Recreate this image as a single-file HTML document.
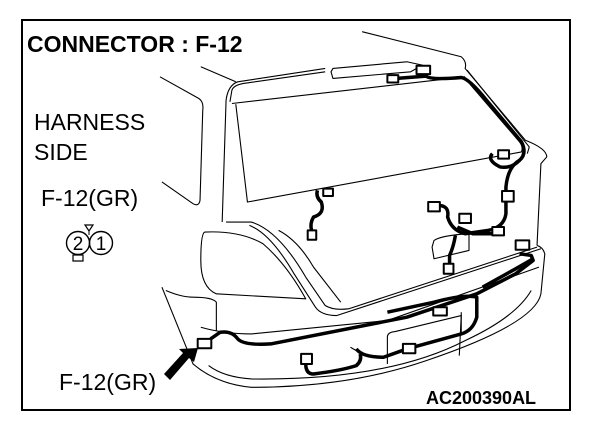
<!DOCTYPE html>
<html><head><meta charset="utf-8"><style>
html,body{margin:0;padding:0;background:#fff;width:608px;height:426px;overflow:hidden;position:relative;font-family:"Liberation Sans",Arial,sans-serif;color:#000}
.t{position:absolute;white-space:nowrap;line-height:1}
svg{position:absolute;left:0;top:0}
path,line,rect,polygon,ellipse{vector-effect:non-scaling-stroke}
</style></head><body>
<svg width="608" height="426" viewBox="0 0 608 426">
<rect x="22" y="20" width="548" height="390" fill="none" stroke="#000" stroke-width="2"/>
<g transform="matrix(0.3887 0 0 0.3339 -1.32 0)" fill="none" stroke="#000" stroke-width="1.1" stroke-linejoin="round">
<path d="M935,95 L1190,170 Q1205,185 1200,205 L1355,420 Q1410,445 1410,470 L1395,490 L1385,735"/>
<path d="M520,200 L610,245"/>
<path d="M415,230 L515,295 Q528,305 525,330 L518,600 Q515,620 500,610 L420,545"/>
<path d="M575,665 L585,300 Q590,255 615,245 L840,205"/>
<path d="M595,305 L600,270 Q605,255 630,250 L840,215"/>
<path d="M855,215 L860,205 L1050,185 L1090,195 L1060,215 L860,235 Z"/>
<path d="M600,310 L1200,230"/>
<path d="M1205,210 L1365,440 L1360,460"/>
<path d="M610,312 L640,605 L1345,455 Q1350,440 1340,425 L1200,235"/>
<path d="M585,665 L650,665 Q720,690 790,830 L840,915 Q860,930 900,925 L1385,740"/>
<path d="M645,675 Q700,700 760,820 L815,920 Q830,945 870,945 L1395,745"/>
<path d="M720,690 Q770,720 810,800 L880,905"/>
<path d="M530,695 Q520,700 520,780 Q520,860 560,880 L790,895 Q740,790 680,730 Q620,690 530,695"/>
<path d="M430,870 Q470,890 500,890 Q550,890 560,905 L560,990"/>
<path d="M420,860 L500,1090 Q560,1150 650,1160 Q900,1160 1100,1080 Q1380,970 1395,880 L1405,760 Q1400,740 1385,735"/>
<path d="M520,980 Q580,1000 650,1000 L1000,960 L1390,800"/>
<path d="M540,1095 Q580,1130 650,1135 Q1000,1140 1200,1020 Q1330,950 1370,870"/>
<path d="M1000,1090 L1000,1010 Q1000,995 1020,993 L1190,945 L1185,1065"/>
<path d="M1190,935 L1190,1000"/>
<g stroke-width="3.5">
<path d="M545,1015 L570,995 Q600,990 615,1015 Q630,1035 700,1030 L1050,950 L1230,880 L1330,820 L1375,780 L1370,765 L1340,760"/>
<path d="M1245,860 L1330,805 L1375,775"/>
<path d="M920,1045 Q935,1070 990,1070 L1050,1045 L1190,1000 Q1220,990 1230,950 L1230,890 Q1200,880 1120,905 L1000,935"/>
<path d="M790,1090 Q790,1120 810,1120 Q880,1110 920,1095 Q935,1080 930,1060"/>
<path d="M1020,235 L1100,228 Q1110,240 1190,232 Q1210,235 1255,300 L1345,425 Q1360,460 1340,480 Q1310,500 1305,560 L1305,640 Q1300,680 1260,690 L1200,700 Q1165,690 1155,650 Q1160,615 1130,615"/>
<path d="M1180,680 L1220,700 L1285,700"/>
<path d="M1270,460 Q1255,480 1290,500 Q1320,505 1340,480"/>
<path d="M1175,705 Q1170,740 1160,765 L1160,790"/>
<path d="M820,570 Q815,590 830,605 Q840,640 810,650 Q800,670 805,690"/>
</g>
<path d="M1115,740 L1120,720 Q1140,705 1210,700 L1210,750 L1120,775 Z"/>
<path d="M905,1040 L920,1050"/>
<g fill="#fff" stroke-width="2">
<rect x="512" y="1015" width="35" height="28"/>
<rect x="1000" y="225" width="28" height="22"/>
<rect x="1075" y="197" width="35" height="25"/>
<rect x="1285" y="450" width="28" height="25"/>
<rect x="1295" y="572" width="30" height="32"/>
<rect x="1105" y="605" width="30" height="28"/>
<rect x="1185" y="640" width="30" height="28"/>
<rect x="1270" y="680" width="30" height="25"/>
<rect x="1330" y="720" width="35" height="28"/>
<rect x="1145" y="790" width="25" height="30"/>
<rect x="835" y="565" width="25" height="22"/>
<rect x="795" y="690" width="22" height="28"/>
<rect x="778" y="1060" width="28" height="30"/>
<rect x="1040" y="1030" width="32" height="28"/>
<rect x="1118" y="920" width="35" height="25"/>
</g>
</g>
<polygon points="198,348 194,362 189,358 170,380 164,374 183,353 179,349" fill="#000"/>
<circle cx="78" cy="243" r="11.5" fill="none" stroke="#000" stroke-width="1.4"/>
<circle cx="101" cy="243" r="11.5" fill="none" stroke="#000" stroke-width="1.4"/>
<polygon points="85,225 93,225 89,231" fill="none" stroke="#000" stroke-width="1.2"/>
<line x1="89" y1="231" x2="89" y2="235" stroke="#000"/>
<rect x="73" y="255" width="10" height="6" fill="#fff" stroke="#000" stroke-width="1.2"/>
<text x="78" y="250" font-family="Liberation Sans, sans-serif" font-size="19" text-anchor="middle">2</text>
<text x="101" y="250" font-family="Liberation Sans, sans-serif" font-size="19" text-anchor="middle">1</text>
</svg>
<div class="t" style="left:27px;top:33px;font-size:23px;font-weight:bold;">CONNECTOR : F-12</div>
<div class="t" style="left:34px;top:111px;font-size:23px;">HARNESS</div>
<div class="t" style="left:34px;top:141px;font-size:23px;">SIDE</div>
<div class="t" style="left:41px;top:187px;font-size:23px;">F-12(GR)</div>
<div class="t" style="left:59px;top:371px;font-size:23px;">F-12(GR)</div>
<div class="t" style="left:426px;top:389px;font-size:18px;font-weight:bold;">AC200390AL</div>
</body></html>
